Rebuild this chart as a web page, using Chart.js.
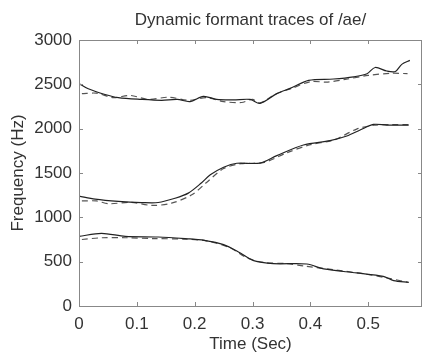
<!DOCTYPE html>
<html>
<head>
<meta charset="utf-8">
<script src="https://cdn.jsdelivr.net/npm/chart.js@4/dist/chart.umd.min.js"></script>
<style>
  html, body { margin: 0; padding: 0; background: #fff; }
  #wrap { width: 423px; height: 359px; }
</style>
</head>
<body>
<div id="wrap"><canvas id="formantChart"></canvas></div>
<script>
// formant traces (time in sec, frequency in Hz)
var f3SolidT  = [0, 0.016, 0.045, 0.068, 0.108, 0.143, 0.17, 0.192, 0.215, 0.238, 0.267, 0.296, 0.313, 0.342, 0.365, 0.397, 0.44, 0.475, 0.498, 0.512, 0.532, 0.547, 0.558, 0.572];
var f3Solid   = [2510, 2450, 2385, 2350, 2330, 2320, 2330, 2305, 2365, 2330, 2325, 2330, 2285, 2395, 2455, 2545, 2560, 2585, 2620, 2690, 2650, 2645, 2725, 2770];
var f3DashT   = [0.005, 0.03, 0.06, 0.088, 0.12, 0.155, 0.19, 0.22, 0.25, 0.281, 0.3, 0.313, 0.34, 0.37, 0.4, 0.43, 0.46, 0.5, 0.54, 0.568];
var f3Dash    = [2395, 2400, 2350, 2375, 2330, 2355, 2320, 2350, 2305, 2295, 2330, 2290, 2390, 2460, 2530, 2525, 2555, 2600, 2625, 2620];

var f2SolidT  = [0, 0.028, 0.068, 0.108, 0.137, 0.166, 0.189, 0.212, 0.227, 0.25, 0.273, 0.313, 0.342, 0.388, 0.434, 0.463, 0.486, 0.509, 0.532, 0.57];
var f2Solid   = [1240, 1205, 1180, 1167, 1167, 1215, 1273, 1390, 1479, 1565, 1610, 1612, 1696, 1816, 1865, 1917, 1985, 2048, 2041, 2040];
var f2DashT   = [0.005, 0.03, 0.051, 0.09, 0.126, 0.16, 0.195, 0.22, 0.25, 0.28, 0.32, 0.36, 0.4, 0.44, 0.48, 0.51, 0.54, 0.57];
var f2Dash    = [1185, 1185, 1153, 1170, 1134, 1160, 1254, 1390, 1550, 1605, 1620, 1730, 1820, 1870, 1995, 2040, 2045, 2045];

var f1SolidT  = [0, 0.039, 0.08, 0.137, 0.192, 0.212, 0.25, 0.279, 0.302, 0.336, 0.394, 0.423, 0.48, 0.526, 0.544, 0.57];
var f1Solid   = [785, 820, 785, 778, 756, 745, 692, 598, 512, 478, 474, 418, 373, 335, 287, 268];
var f1DashT   = [0.005, 0.04, 0.08, 0.13, 0.18, 0.22, 0.26, 0.29, 0.32, 0.36, 0.39, 0.44, 0.49, 0.53, 0.57];
var f1Dash    = [750, 770, 770, 760, 755, 735, 660, 545, 490, 478, 450, 410, 365, 320, 265];

var yTicks = [0, 500, 1000, 1500, 2000, 2500, 3000];
var xTicks = [0, 0.1, 0.2, 0.3, 0.4, 0.5];
var chartTitle = 'Dynamic formant traces of /ae/';

function pts(ts, vs) {
  return ts.map(function (t, i) { return { x: t, y: vs[i] }; });
}

function line(label, ts, vs, dashed) {
  return {
    label: label,
    data: pts(ts, vs),
    borderColor: dashed ? '#555' : '#222',
    borderWidth: 1.2,
    borderDash: dashed ? [6, 4] : [],
    pointRadius: 0,
    tension: 0.3,
    fill: false
  };
}

var font = 'Liberation Sans, Arial, Helvetica, sans-serif';

// matlab style box with inward ticks on all four sides, title over the plot area
var boxPlugin = {
  id: 'box',
  afterDraw: function (chart) {
    var c = chart.ctx, a = chart.chartArea;
    var xs = chart.scales.x, ys = chart.scales.y;
    c.save();
    c.strokeStyle = '#888';
    c.lineWidth = 1;
    c.strokeRect(a.left + 0.5, a.top + 0.5, a.right - a.left - 1, a.bottom - a.top);
    c.beginPath();
    xTicks.forEach(function (v) {
      var px = Math.round(xs.getPixelForValue(v)) + 0.5;
      c.moveTo(px, a.bottom); c.lineTo(px, a.bottom - 4);
      c.moveTo(px, a.top); c.lineTo(px, a.top + 4);
    });
    yTicks.forEach(function (v) {
      var py = Math.round(ys.getPixelForValue(v)) + 0.5;
      c.moveTo(a.left, py); c.lineTo(a.left + 4, py);
      c.moveTo(a.right, py); c.lineTo(a.right - 4, py);
    });
    c.stroke();
    c.fillStyle = '#333';
    c.font = '17px ' + font;
    c.textAlign = 'center';
    c.textBaseline = 'middle';
    c.fillText(chartTitle, (a.left + a.right) / 2, a.top - 20);
    c.restore();
  }
};

new Chart(document.getElementById('formantChart').getContext('2d'), {
  type: 'line',
  data: {
    datasets: [
      line('F3', f3SolidT, f3Solid, false),
      line('F3 est', f3DashT, f3Dash, true),
      line('F2', f2SolidT, f2Solid, false),
      line('F2 est', f2DashT, f2Dash, true),
      line('F1', f1SolidT, f1Solid, false),
      line('F1 est', f1DashT, f1Dash, true)
    ]
  },
  options: {
    responsive: true,
    maintainAspectRatio: false,
    animation: false,
    layout: { padding: { right: 1, top: 40 } },
    plugins: {
      legend: { display: false },
      tooltip: { enabled: false },
      title: { display: false }
    },
    scales: {
      x: {
        type: 'linear',
        min: 0,
        max: 0.593,
        afterFit: function (s) { s.height = 53; },
        grid: { display: false, drawTicks: false },
        border: { display: false },
        ticks: {
          stepSize: 0.1,
          includeBounds: false,
          padding: 8,
          color: '#333',
          maxRotation: 0,
          font: { family: font, size: 17 },
          callback: function (v) { return String(Math.round(v * 10) / 10); }
        },
        title: {
          display: true,
          text: 'Time (Sec)',
          color: '#333',
          font: { family: font, size: 17 },
          padding: { top: 0, bottom: 4 }
        }
      },
      y: {
        min: 0,
        max: 3000,
        afterFit: function (s) { s.width = 79; },
        grid: { display: false, drawTicks: false },
        border: { display: false },
        ticks: {
          stepSize: 500,
          padding: 7,
          color: '#333',
          font: { family: font, size: 17 },
          callback: function (v) { return String(v); }
        },
        title: {
          display: true,
          text: 'Frequency (Hz)',
          color: '#333',
          font: { family: font, size: 17 },
          padding: { top: 8, bottom: 0 }
        }
      }
    }
  },
  plugins: [boxPlugin]
});
</script>
</body>
</html>
